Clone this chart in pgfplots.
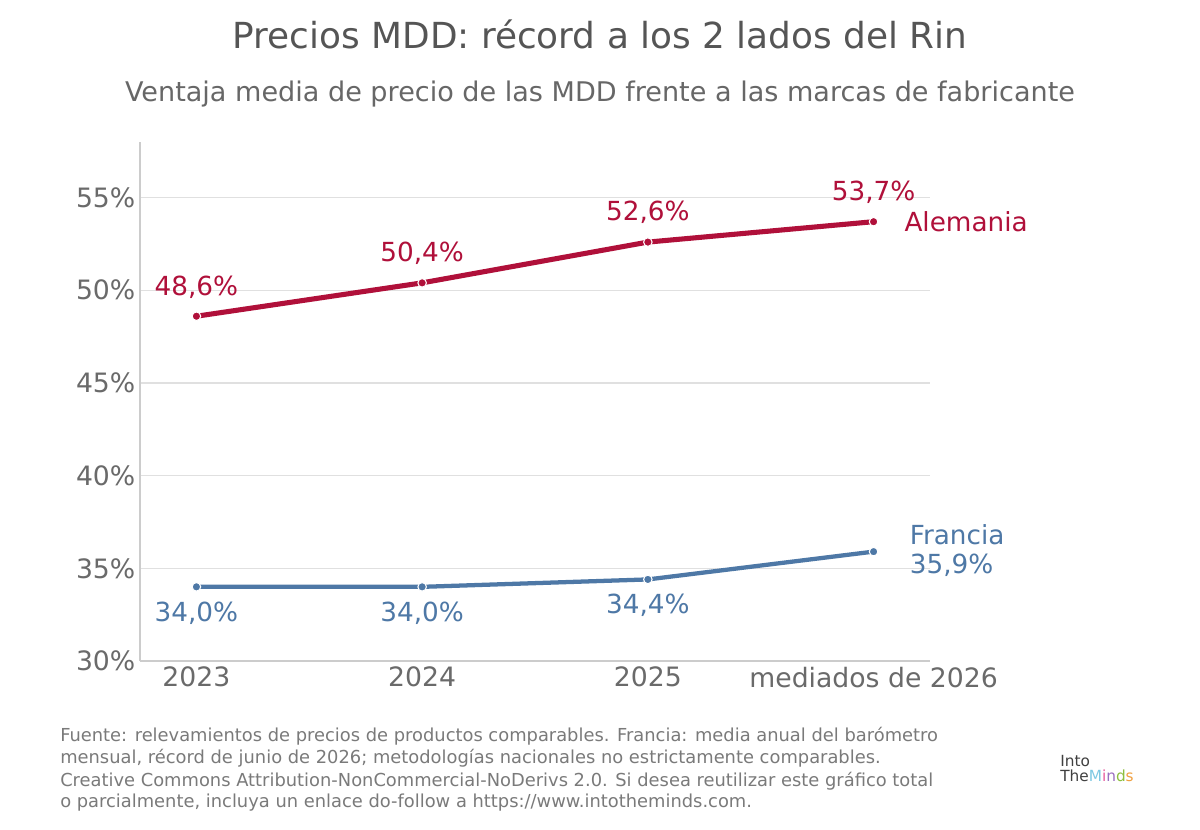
\documentclass[border=0pt]{standalone}
\usepackage{fontspec}
\setmainfont{DejaVu Sans}
\usepackage{pgfplots}
\pgfplotsset{compat=1.18}
\definecolor{cred}{HTML}{B0103A}
\definecolor{cblue}{HTML}{4E78A6}
\definecolor{ctitle}{HTML}{555555}
\definecolor{csub}{HTML}{676767}
\definecolor{ctick}{HTML}{6A6A6A}
\definecolor{cfoot}{HTML}{7A7A7A}
\definecolor{cgrid}{HTML}{E0E0E0}
\definecolor{caxis}{HTML}{CCCCCC}
\begin{document}
\begin{tikzpicture}
\path[use as bounding box, fill=white] (0pt,0pt) rectangle (900pt,622.5pt);
\node[text=ctitle, font=\fontsize{26.9}{30}\selectfont] at (450pt,597pt) {Precios MDD: récord a los 2 lados del Rin};
\node[text=csub, font=\fontsize{20.3}{24}\selectfont] at (450pt,552pt) {Ventaja media de precio de las MDD frente a las marcas de fabricante};
\begin{axis}[
  at={(105pt,126.75pt)}, anchor=south west,
  scale only axis, width=592.5pt, height=389.25pt,
  xmin=-0.25, xmax=3.25, ymin=30, ymax=58,
  axis x line*=bottom, axis y line*=left,
  axis line style={draw=caxis, line width=1pt, -},
  major tick length=0pt,
  xtick={0,1,2,3}, xticklabels={2023,2024,2025,mediados de 2026},
  ytick={30,35,40,45,50,55}, yticklabels={30\%,35\%,40\%,45\%,50\%,55\%},
  ymajorgrids, grid style={draw=cgrid, line width=1pt},
  tick label style={text=ctick, font=\fontsize{20}{24}\selectfont},
  /pgf/number format/assume math mode=true,
  xticklabel style={yshift=-1pt},
  yticklabel style={xshift=0pt},
  clip=false,
]
\addplot[cred, line width=3.8pt, mark=*, mark size=3.2pt, mark options={fill=cred, draw=white, line width=0.8pt}]
  coordinates {(0,48.6) (1,50.4) (2,52.6) (3,53.7)};
\addplot[cblue, line width=3.2pt, mark=*, mark size=3.2pt, mark options={fill=cblue, draw=white, line width=0.8pt}]
  coordinates {(0,34.0) (1,34.0) (2,34.4) (3,35.9)};
\begin{scope}[font=\fontsize{19.7}{23}\selectfont]
\node[text=cred, yshift=22pt] at (axis cs:0,48.6) {48,6\%};
\node[text=cred, yshift=22pt] at (axis cs:1,50.4) {50,4\%};
\node[text=cred, yshift=22pt] at (axis cs:2,52.6) {52,6\%};
\node[text=cred, yshift=22pt] at (axis cs:3,53.7) {53,7\%};
\node[text=cblue, yshift=-19.5pt] at (axis cs:0,34.0) {34,0\%};
\node[text=cblue, yshift=-19.5pt] at (axis cs:1,34.0) {34,0\%};
\node[text=cblue, yshift=-19.5pt] at (axis cs:2,34.4) {34,4\%};
\node[text=cred, anchor=west, inner sep=0pt, xshift=23pt] at (axis cs:3,53.7) {Alemania};
\node[text=cblue, anchor=west, inner sep=0pt, xshift=27pt, yshift=12.75pt] at (axis cs:3,35.9) {Francia};
\node[text=cblue, anchor=west, inner sep=0pt, xshift=27pt, yshift=-10.5pt] at (axis cs:3,35.9) {35,9\%};
\end{scope}
\end{axis}
\begin{scope}[every node/.style={anchor=base west, inner sep=0pt, text=cfoot, font=\fontsize{13.4}{16}\selectfont}]
\node at (45pt,66.25pt) {Fuente: relevamientos de precios de productos comparables. Francia: media anual del barómetro};
\node at (45pt,49.75pt) {mensual, récord de junio de 2026; metodologías nacionales no estrictamente comparables.};
\node at (45pt,32.5pt) {Creative Commons Attribution-NonCommercial-NoDerivs 2.0. Si desea reutilizar este gráfico total};
\node at (45pt,16.75pt) {o parcialmente, incluya un enlace do-follow a https://www.intotheminds.com.};
\end{scope}
\begin{scope}[every node/.style={anchor=base west, inner sep=0pt, font=\fontsize{11.5}{13}\selectfont}]
\node[text=black!75] at (795pt,47.5pt) {Into};
\node at (795pt,36.25pt) {\textcolor{black!75}{The}\textcolor[HTML]{7EC8E3}{M}\textcolor[HTML]{E85FA0}{i}\textcolor[HTML]{9B6FC0}{n}\textcolor[HTML]{8DBF3F}{d}\textcolor[HTML]{F0A040}{s}};
\end{scope}
\end{tikzpicture}
\end{document}
